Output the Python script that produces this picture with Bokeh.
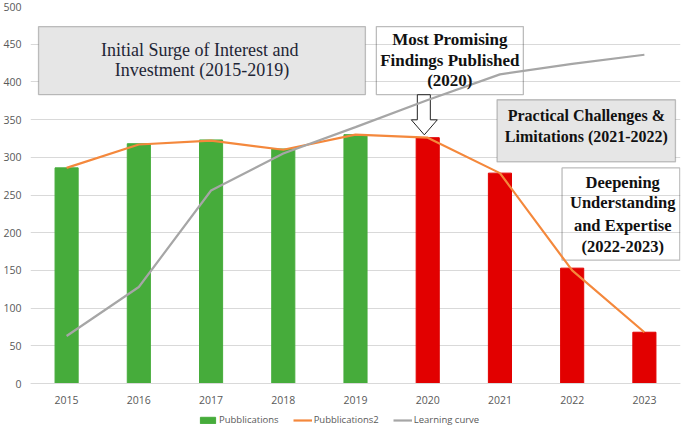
from bokeh.plotting import figure
from bokeh.models import (Range1d, FixedTicker, BoxAnnotation, Label, Legend,
                          LegendItem, ColumnDataSource)
from bokeh.embed import file_html
from bokeh.resources import INLINE

# ---- data ----
years = ["2015", "2016", "2017", "2018", "2019", "2020", "2021", "2022", "2023"]
publications = [286, 318, 323, 311, 330, 326, 279, 153, 68]
publications2 = [286, 317, 322, 310, 330, 326, 279, 150, 68]
learning_curve = [63, 128, 256, 305, 340, 376, 410, 424, 436]
y_ticks = [0, 50, 100, 150, 200, 250, 300, 350, 400, 450, 500]

GREEN = "#46AC3B"
RED = "#E20000"
ORANGE = "#F4883C"
GREY = "#A6A6A6"
TICK_COL = "#595959"
SANS = "Open Sans"
SERIF = "Liberation Serif"

x_pos = list(range(len(years)))
bar_colors = [GREEN if int(y) < 2020 else RED for y in years]

src = ColumnDataSource(dict(x=x_pos, pubs=publications, pubs2=publications2,
                            lc=learning_curve, color=bar_colors))

# frame extends below 0 so that the x labels and legend sit inside it
p = figure(width=685, height=429, output_backend="svg", toolbar_location=None,
           x_range=Range1d(-0.5, len(years) - 0.5), y_range=Range1d(-61, 500),
           min_border_top=6, min_border_right=5, min_border_left=30,
           min_border_bottom=0)
p.outline_line_color = None
p.background_fill_color = "white"
p.border_fill_color = "white"

# axes
p.yaxis.ticker = FixedTicker(ticks=y_ticks)
p.yaxis.axis_line_color = None
p.yaxis.major_tick_line_color = None
p.yaxis.minor_tick_line_color = None
p.yaxis.major_label_text_font = SANS
p.yaxis.major_label_text_font_size = "10.5px"
p.yaxis.major_label_text_color = TICK_COL
p.yaxis.major_label_standoff = 3

p.xaxis.fixed_location = 0
p.xaxis.ticker = FixedTicker(ticks=x_pos)
p.xaxis.major_label_overrides = {i: y for i, y in zip(x_pos, years)}
p.xaxis.axis_line_color = "#D9D9D9"
p.xaxis.major_tick_line_color = None
p.xaxis.minor_tick_line_color = None
p.xaxis.major_label_text_font = SANS
p.xaxis.major_label_text_font_size = "10.5px"
p.xaxis.major_label_text_color = TICK_COL
p.xaxis.major_label_standoff = 6

p.xgrid.visible = False
p.ygrid.ticker = FixedTicker(ticks=y_ticks)
p.ygrid.grid_line_color = "#D9D9D9"

# annotation boxes
box_specs = [
    dict(left=-0.389, right=4.137, bottom=383.0, top=473.4, fill_color="#E6E6E6", fill_alpha=1.0, line_color="#3A3A3A"),
    dict(left=4.289, right=6.324, bottom=383.0, top=473.4, fill_color="white", fill_alpha=0.0, line_color="#222222"),
    dict(left=5.96, right=8.43, bottom=293.9, top=376.3, fill_color="#E6E6E6", fill_alpha=1.0, line_color="#3A3A3A"),
    dict(left=6.86, right=8.49, bottom=163.6, top=285.9, fill_color="white", fill_alpha=0.0, line_color="#222222"),
]
for b in box_specs:
    p.add_layout(BoxAnnotation(line_width=1.3, level="underlay", **b))

# hollow arrow from the 2020 box
p.patch([4.856, 5.036, 5.036, 5.133, 4.953, 4.773, 4.856],
        [383.0, 383.0, 349.7, 349.7, 329.8, 349.7, 349.7],
        fill_color="white", line_color="#222222", line_width=1)

# series
bars = p.vbar(x="x", top="pubs", width=0.32, color="color", source=src)
orange = p.line("x", "pubs2", line_color=ORANGE, line_width=2.2, source=src)
grey = p.line("x", "lc", line_color=GREY, line_width=2.2, source=src)

# texts
def add_lines(cx, ys, lines, bold, color, size):
    for yy, t in zip(ys, lines):
        p.add_layout(Label(x=cx, y=yy, text=t, text_align="center",
                           text_baseline="middle", text_font=SERIF,
                           text_font_size=size,
                           text_font_style="bold" if bold else "normal",
                           text_color=color))

add_lines(1.874, [442.8, 416.2],
          ["Initial Surge of  Interest and", "Investment (2015-2019)"],
          False, "#1E2535", "18px")
add_lines(5.306, [456.1, 428.2, 401.6],
          ["Most Promising", "Findings Published", "(2020)"],
          True, "#111111", "17px")
add_lines(7.196, [355.0, 327.1],
          ["Practical Challenges &", "Limitations (2021-2022)"],
          True, "#111111", "16px")
add_lines(7.70, [266.0, 239.4, 210.1, 182.2],
          ["Deepening", "Understanding", "and Expertise", "(2022-2023)"],
          True, "#111111", "16.5px")

legend = Legend(items=[LegendItem(label="Pubblications", renderers=[bars], index=0),
                       LegendItem(label="Pubblications2", renderers=[orange]),
                       LegendItem(label="Learning curve", renderers=[grey])],
                orientation="horizontal", location=(168, 3),
                label_text_font=SANS, label_text_font_size="9.5px",
                label_text_color=TICK_COL, glyph_width=19, glyph_height=8,
                label_height=12, label_standoff=2, spacing=14, padding=0,
                margin=0, border_line_color=None, background_fill_alpha=0)
p.add_layout(legend)

open("out.html", "w").write(file_html(p, INLINE))
